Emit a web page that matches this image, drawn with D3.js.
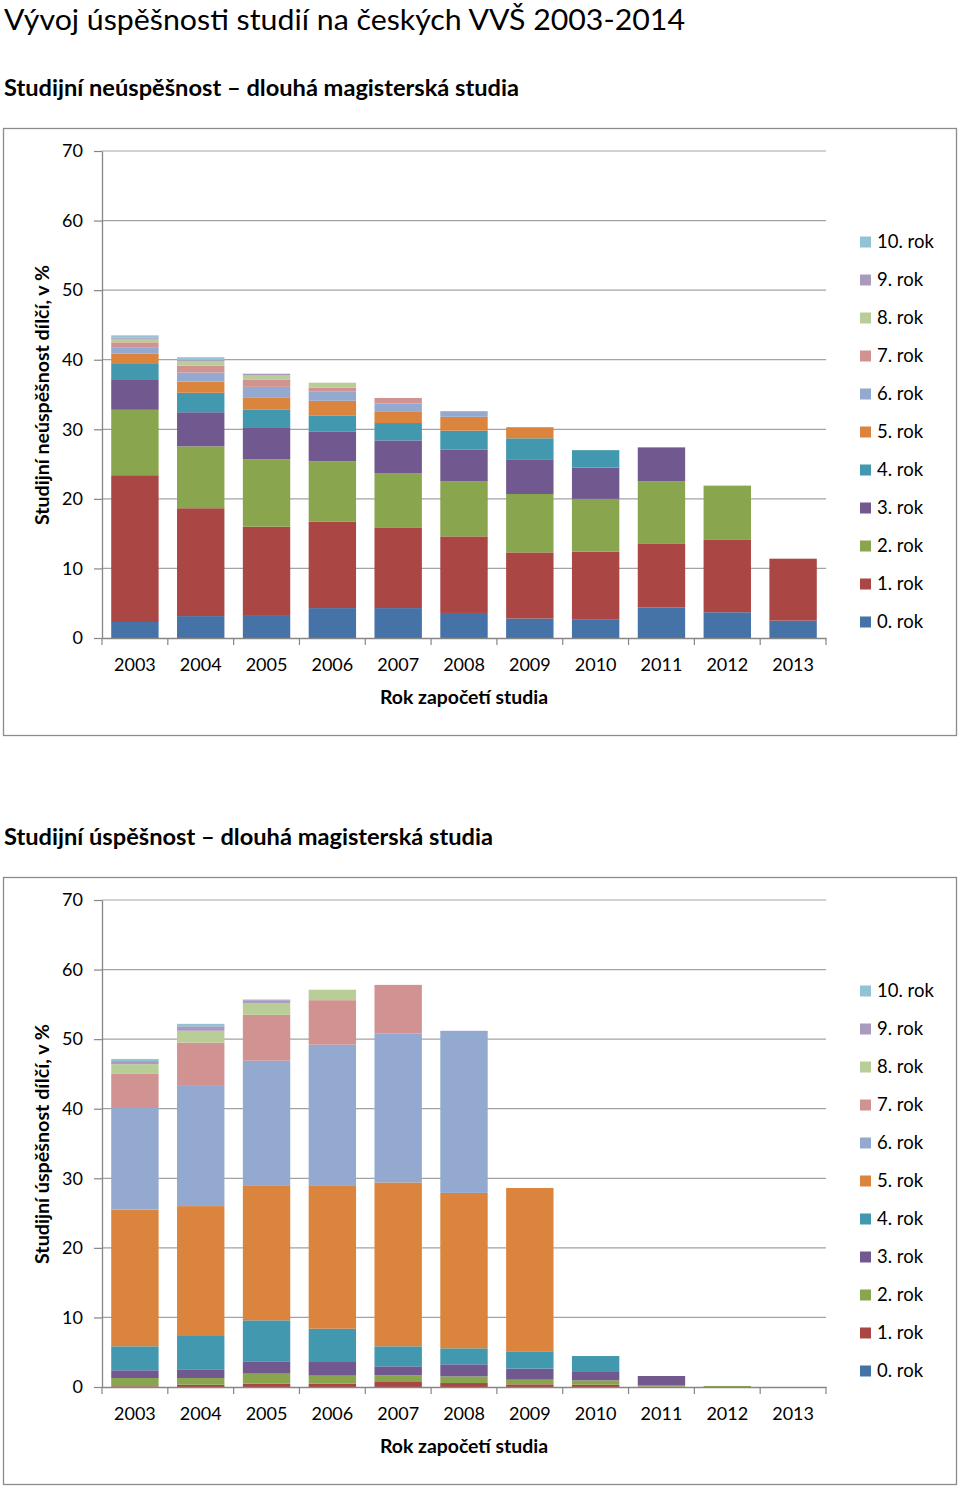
<!DOCTYPE html>
<html><head><meta charset="utf-8">
<script src="https://cdn.jsdelivr.net/npm/d3@7"></script>
<style>
body{margin:0;background:#fff}
text{font-family:Lato,"Open Sans",sans-serif;fill:#000}
</style>
</head><body><svg id="c" width="960" height="1488"></svg>
<script>
// ---------- DATA ----------
const categories = ["2003","2004","2005","2006","2007","2008","2009","2010","2011","2012","2013"];
const seriesNames = ["0. rok","1. rok","2. rok","3. rok","4. rok","5. rok","6. rok","7. rok","8. rok","9. rok","10. rok"];
const yTicks = [0,10,20,30,40,50,60,70];

// Studijní neúspěšnost (failure), per year of study
const neu0  = [2.3, 3.15, 3.3, 4.3, 4.3, 3.6, 2.8, 2.7, 4.4, 3.7, 2.5];
const neu1  = [21.1, 15.5, 12.7, 12.4, 11.6, 11.0, 9.5, 9.7, 9.2, 10.4, 8.9];
const neu2  = [9.4, 8.9, 9.7, 8.7, 7.8, 7.9, 8.4, 7.6, 8.9, 7.8, 0];
const neu3  = [4.4, 4.9, 4.6, 4.3, 4.7, 4.6, 4.9, 4.5, 4.9, 0, 0];
const neu4  = [2.3, 2.8, 2.5, 2.3, 2.5, 2.7, 3.1, 2.5, 0, 0, 0];
const neu5  = [1.4, 1.6, 1.8, 2.1, 1.6, 2.0, 1.6, 0, 0, 0, 0];
const neu6  = [0.9, 1.3, 1.5, 1.3, 1.2, 0.8, 0, 0, 0, 0, 0];
const neu7  = [0.7, 1.0, 1.0, 0.6, 0.8, 0, 0, 0, 0, 0, 0];
const neu8  = [0.5, 0.6, 0.7, 0.7, 0, 0, 0, 0, 0, 0, 0];
const neu9  = [0.2, 0.2, 0.15, 0, 0, 0, 0, 0, 0, 0, 0];
const neu10 = [0.3, 0.4, 0.05, 0, 0, 0, 0, 0, 0, 0, 0];

// Studijní úspěšnost (success), per year of study
const usp0  = [0, 0, 0, 0, 0, 0, 0, 0, 0, 0, 0];
const usp1  = [0.1, 0.33, 0.48, 0.48, 0.72, 0.57, 0.38, 0.33, 0.05, 0, 0];
const usp2  = [1.19, 0.96, 1.44, 1.15, 0.96, 0.96, 0.67, 0.63, 0.24, 0.15, 0];
const usp3  = [1.11, 1.25, 1.77, 1.96, 1.29, 1.73, 1.59, 1.2, 1.29, 0, 0];
const usp4  = [3.45, 4.79, 5.89, 4.79, 2.88, 2.3, 2.49, 2.29, 0, 0, 0];
const usp5  = [19.65, 18.67, 19.42, 20.52, 23.55, 22.34, 23.47, 0, 0, 0, 0];
const usp6  = [14.6, 17.4, 17.9, 20.3, 21.4, 23.3, 0, 0, 0, 0, 0];
const usp7  = [4.9, 6.1, 6.6, 6.4, 7.0, 0, 0, 0, 0, 0, 0];
const usp8  = [1.4, 1.7, 1.7, 1.5, 0, 0, 0, 0, 0, 0, 0];
const usp9  = [0.45, 0.65, 0.4, 0, 0, 0, 0, 0, 0, 0, 0];
const usp10 = [0.3, 0.35, 0.1, 0, 0, 0, 0, 0, 0, 0, 0];

const mainTitle = "Vývoj úspěšnosti studií na českých VVŠ 2003-2014";
const xTitle = "Rok započetí studia";

// ---------- STYLE ----------
const palette = ["#4572A7","#AA4643","#89A54E","#71588F","#4198AF","#DB843D","#93A9CF","#D19392","#B9CD96","#A99BBD","#92C3D5"];

const svg = d3.select("#c");
svg.append("text").attr("x",4).attr("y",30).attr("font-size",29)
  .attr("textLength",681).attr("lengthAdjust","spacingAndGlyphs").text(mainTitle);

function drawChart(oy, seriesArrays, subtitle, subLen, yTitle, yTitleLen){
  const g = svg.append("g").attr("transform",`translate(0,${oy})`);
  g.append("text").attr("x",4).attr("y",96).attr("font-size",22).attr("font-weight","bold")
    .attr("textLength",subLen).attr("lengthAdjust","spacingAndGlyphs").text(subtitle);
  g.append("rect").attr("x",3.5).attr("y",128.5).attr("width",953).attr("height",607)
    .attr("fill","#fff").attr("stroke","#8c8c8c").attr("stroke-width",1.3);

  const x = d3.scaleBand().domain(categories).range([102,826]).paddingInner(0.28).paddingOuter(0.14);
  const y = d3.scaleLinear().domain([0,70]).range([638,151]);

  // gridlines
  g.append("g").selectAll("line").data(yTicks.filter(d=>d>0)).join("line")
    .attr("x1",102).attr("x2",826).attr("y1",d=>y(d)).attr("y2",d=>y(d))
    .attr("stroke","#a3a3a3").attr("stroke-width",1.2);

  // stacked bars
  const rows = categories.map((c,i)=>{
    const r = {cat:c};
    seriesNames.forEach((s,k)=>{ r[s] = seriesArrays[k][i]; });
    return r;
  });
  const stack = d3.stack().keys(seriesNames)(rows);
  g.append("g").selectAll("g").data(stack).join("g")
    .attr("fill",(d,i)=>palette[i])
    .selectAll("rect").data(d=>d).join("rect")
    .attr("x",d=>x(d.data.cat)).attr("width",x.bandwidth())
    .attr("y",d=>y(d[1])).attr("height",d=>Math.max(0,y(d[0])-y(d[1])));

  // y axis
  const ya = g.append("g").attr("transform","translate(102,0)")
    .call(d3.axisLeft(y).tickValues(yTicks).tickSize(8).tickSizeOuter(0).tickPadding(11));
  ya.select(".domain").attr("stroke","#868686").attr("stroke-width",1.3);
  ya.selectAll(".tick line").attr("stroke","#868686").attr("stroke-width",1.2);
  ya.selectAll("text").attr("font-size",18).attr("font-family","Lato").attr("fill","#000");

  // x axis
  const xa = g.append("g").attr("transform","translate(0,638)")
    .call(d3.axisBottom(x).tickSize(0).tickPadding(20).tickSizeOuter(0));
  xa.select(".domain").attr("stroke","#868686").attr("stroke-width",1.3);
  xa.selectAll("text").attr("font-size",18).attr("font-family","Lato").attr("fill","#000");
  const edges = categories.map(c=>x(c)-x.step()*x.paddingInner()/2).concat([x.range()[1]]);
  g.append("g").selectAll("line").data(edges).join("line")
    .attr("x1",d=>d).attr("x2",d=>d).attr("y1",638).attr("y2",645)
    .attr("stroke","#868686").attr("stroke-width",1.2);

  // axis titles
  g.append("text").attr("x",464).attr("y",704).attr("text-anchor","middle")
    .attr("font-size",19).attr("font-weight","bold")
    .attr("textLength",168).attr("lengthAdjust","spacingAndGlyphs").text(xTitle);
  g.append("text").attr("transform","translate(49,395) rotate(-90)").attr("text-anchor","middle")
    .attr("font-size",18).attr("font-weight","bold")
    .attr("textLength",yTitleLen).attr("lengthAdjust","spacingAndGlyphs").text(yTitle);

  // legend
  const lg = g.append("g").selectAll("g").data(seriesNames).join("g")
    .attr("transform",(d,i)=>`translate(860,${622 - i*38})`);
  lg.append("rect").attr("x",0).attr("y",-5.5).attr("width",11).attr("height",11)
    .attr("fill",(d,i)=>palette[i]);
  lg.append("text").attr("x",17).attr("y",0).attr("dy","0.35em").attr("font-size",18.5).text(d=>d);
}

drawChart(0, [neu0,neu1,neu2,neu3,neu4,neu5,neu6,neu7,neu8,neu9,neu10],
  "Studijní neúspěšnost – dlouhá magisterská studia", 515,
  "Studijní neúspěšnost dílčí, v %", 260);
drawChart(749, [usp0,usp1,usp2,usp3,usp4,usp5,usp6,usp7,usp8,usp9,usp10],
  "Studijní úspěšnost – dlouhá magisterská studia", 489,
  "Studijní úspěšnost dílčí, v %", 240);
</script>
</body></html>
